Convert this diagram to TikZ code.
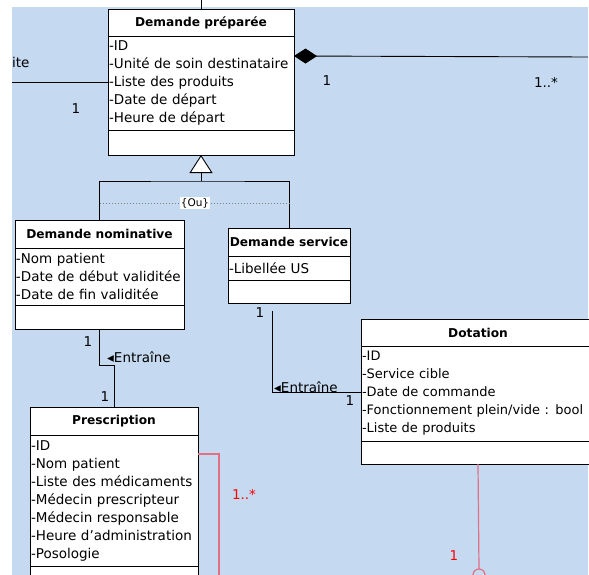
\documentclass[tikz,border=0pt]{standalone}
\usepackage{fontspec}
\setmainfont{DejaVu Sans}
\usepackage{xcolor}
\usetikzlibrary{arrows.meta,positioning}
\definecolor{bgblue}{RGB}{197,217,241}
\definecolor{linkred}{RGB}{226,112,128}

\begin{document}
\begin{tikzpicture}[x=1pt, y=-1pt,
	cls/.style={draw, fill=white, line width=1pt, anchor=north west,
		inner sep=0pt, outer sep=0pt},
	ttl/.style={cls, font=\bfseries\fontsize{12.2}{14}\selectfont, align=center},
	att/.style={cls, font=\fontsize{13.5}{18}\selectfont, align=left, inner xsep=1pt},
	mult/.style={font=\fontsize{13.5}{15}\selectfont, inner sep=0pt},
	ou/.style={fill=white, text=black, font=\fontsize{10.5}{12}\selectfont, inner sep=1pt},
	arr/.style={line width=0.9pt},
	lnk/.style={draw=linkred, line width=1.2pt}
]
	\useasboundingbox (0,0) rectangle (589,574);
	\clip (0,0) rectangle (589,574);
	\fill[bgblue] (12,7) rectangle (588,590);

	% Demande preparee
	\node[ttl, minimum width=186pt, minimum height=27pt] (prep) at (108,9)
		{Demande préparée};
	\node[att, text width=184pt, minimum height=94pt] (prep-a) at (108,36)
		{-ID\\-Unité de soin destinataire\\-Liste des produits\\-Date de départ\\-Heure de départ};
	\node[cls, minimum width=186pt, minimum height=25pt] (prep-o) at (108,130) {};

	% Demande nominative
	\node[ttl, minimum width=169pt, minimum height=28pt] (nom) at (15,220)
		{Demande nominative};
	\node[att, text width=167pt, minimum height=57pt] (nom-a) at (15,248)
		{-Nom patient\\-Date de début validitée\\-Date de fin validitée};
	\node[cls, minimum width=169pt, minimum height=24pt] (nom-o) at (15,305) {};

	% Demande service
	\node[ttl, minimum width=122pt, minimum height=28pt] (serv) at (228,228)
		{Demande service};
	\node[att, text width=120pt, minimum height=24pt] (serv-a) at (228,256)
		{-Libellée US};
	\node[cls, minimum width=122pt, minimum height=23pt] (serv-o) at (228,280) {};

	% Dotation
	\node[ttl, minimum width=234pt, minimum height=27pt] (dot) at (361,319)
		{Dotation};
	\node[att, font=\fontsize{13}{18}\selectfont, text width=300pt, minimum height=95pt] (dot-a) at (361,346)
		{-ID\\-Service cible\\-Date de commande\\-Fonctionnement plein/vide : bool\\-Liste de produits};
	\node[cls, minimum width=302pt, minimum height=23pt] (dot-o) at (361,441) {};

	% Prescription
	\node[ttl, minimum width=168pt, minimum height=28pt] (presc) at (30,407)
		{Prescription};
	\node[att, text width=166pt, minimum height=131pt] (presc-a) at (30,435)
		{-ID\\-Nom patient\\-Liste des médicaments\\-Médecin prescripteur\\-Médecin responsable\\-Heure d'administration\\-Posologie};
	\node[cls, minimum width=168pt, minimum height=30pt] (presc-o) at (30,566) {};

	% links of Demande preparee
	\coordinate (topend) at (201,0);
	\coordinate (leftend) at (12,82);
	\coordinate (rightend) at (588,57);
	\draw[arr] (prep.north) -- (topend);
	\draw[arr] (leftend) -- (leftend -| prep-a.west);
	\draw[arr, {Diamond[length=23pt, width=15pt]}-] ([yshift=-20pt]prep-a.north east) -- (rightend);
	\node[mult, anchor=west] (ite) at (12,62) {ite};
	\node[mult] (m-left) at (76,109) {1};
	\node[mult] (m-comp) at (327,81) {1};
	\node[mult] (m-many) at (546,82) {1..*};

	% Generalisation
	\coordinate (gen) at (201,181);
	\draw[arr] (nom.north) |- (gen) -| (serv.north);
	\draw[arr, -{Triangle[fill=white, length=18pt, width=23pt]}] (gen) -- (prep-o.south);
	\coordinate (ou-l) at (100,203);
	\coordinate (ou-r) at (290,203);
	\draw[gray, line width=1pt, dash pattern=on 1pt off 2pt] (ou-l) -- node[ou] (ou) {\{Ou\}} (ou-r);

	% Demande nominative -- Prescription
	\draw[arr] (nom-o.south) -- ++(0,36) -| (presc.north);
	\node[mult] (m-nom) at (88,342) {1};
	\node[mult, anchor=west] (ent-nom) at (107,357) {◂Entraîne};
	\node[mult] (m-presc) at (105,397) {1};

	% Demande service -- Dotation
	\coordinate (servend) at (272,311);
	\draw[arr] (servend) |- ([yshift=-46pt]dot-a.north west);
	\node[mult] (m-serv) at (260,313) {1};
	\node[mult, anchor=west] (ent-serv) at (274,387) {◂Entraîne};
	\node[mult] (m-dot) at (350,401) {1};

	% red links
	\coordinate (red1) at (219,590);
	\draw[lnk] ([yshift=-19pt]presc-a.north east) -| (red1);
	\node[mult, text=red] (m-red1) at (244,494) {1..*};
	\coordinate (red2) at (479,569);
	\draw[lnk] (dot-o.south -| dot.south) -- (red2);
	\draw[lnk] ([yshift=-6pt]red2) circle[radius=6pt];
	\node[mult, text=red] (m-red2) at (454,556) {1};
\end{tikzpicture}
\end{document}
